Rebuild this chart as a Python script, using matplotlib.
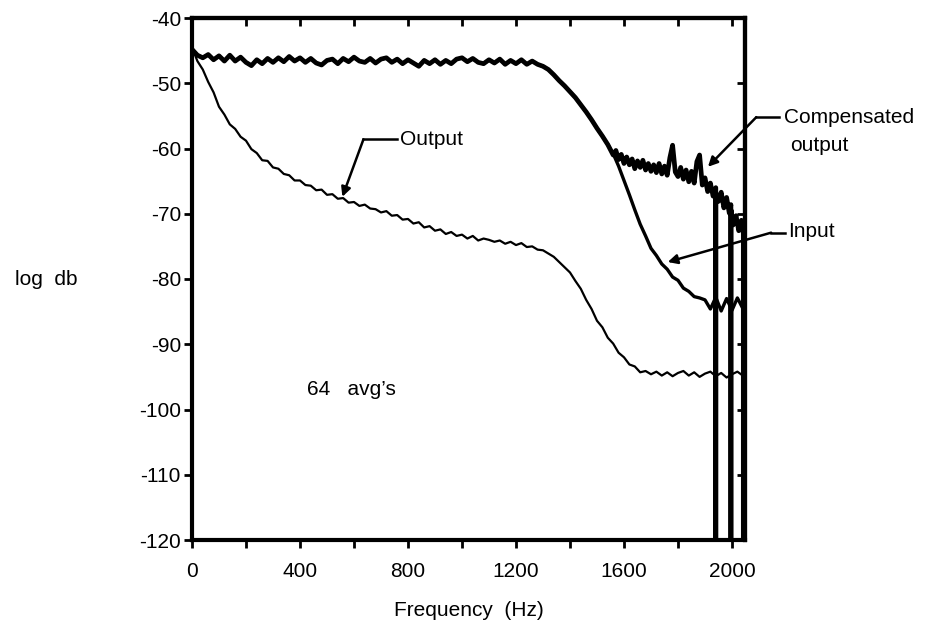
import matplotlib
matplotlib.use("Agg")
import matplotlib.pyplot as plt

plt.rcParams['font.family'] = ['Liberation Sans', 'DejaVu Sans']
plt.rcParams['axes.unicode_minus'] = False

# spectrum grid (Hz), 20 Hz bins
freq = list(range(0, 2041, 20))

# output spectrum (log db)
output_db = [
    -44.5, -46.6, -47.9, -49.8, -51.4, -53.6, -54.8, -56.3, -57.0, -58.2,
    -58.8, -60.1, -60.7, -61.8, -61.9, -62.9, -63.1, -63.9, -64.1, -64.9,
    -64.9, -65.6, -65.7, -66.4, -66.3, -67.1, -67.0, -67.7, -67.6, -68.3,
    -68.2, -68.8, -68.6, -69.2, -69.3, -69.8, -69.6, -70.3, -70.2, -70.9,
    -70.8, -71.5, -71.3, -72.1, -71.9, -72.6, -72.4, -73.1, -72.8, -73.4,
    -73.2, -73.8, -73.4, -74.1, -73.8, -74.0, -74.3, -74.1, -74.6, -74.3,
    -74.8, -74.5, -75.1, -75.0, -75.5, -75.6, -76.1, -76.6, -77.4, -78.2,
    -79.0, -80.3, -81.5, -83.2, -84.6, -86.4, -87.4, -89.0, -89.9, -91.3,
    -92.0, -93.1, -93.4, -94.3, -94.1, -94.6, -94.2, -94.8, -94.3, -94.9,
    -94.4, -94.1, -94.8, -94.3, -95.0, -94.5, -94.2, -94.9, -94.4, -95.1,
    -94.6, -94.2, -94.8,
]

# input spectrum (log db)
input_db = [
    -44.8, -45.7, -46.1, -45.6, -46.4, -45.8, -46.6, -45.7, -46.6, -46.0,
    -46.8, -47.3, -46.4, -47.0, -46.2, -46.8, -46.1, -46.7, -45.9, -46.6,
    -46.1, -46.8, -46.2, -46.9, -47.2, -46.5, -46.3, -47.0, -46.2, -46.7,
    -46.0, -46.6, -46.8, -46.2, -46.9, -46.3, -46.1, -46.8, -46.3, -47.0,
    -46.4, -46.9, -47.4, -46.5, -47.0, -46.4, -47.1, -46.5, -47.0, -46.3,
    -46.1, -46.7, -46.2, -46.8, -47.0, -46.4, -46.9, -46.3, -47.1, -46.5,
    -47.0, -46.4, -47.1, -46.6, -47.1, -47.4, -47.9, -48.7, -49.6, -50.4,
    -51.3, -52.2, -53.3, -54.4, -55.6, -56.9, -58.1, -59.4, -60.8, -62.7,
    -64.9, -67.1, -69.4, -71.6, -73.4, -75.3, -76.4, -77.7, -78.5, -79.7,
    -80.2, -81.4, -81.9, -82.7, -82.9, -83.2, -84.6, -82.8, -84.9, -83.0,
    -84.8, -82.9, -84.5,
]

# compensated output above 1540 Hz, where it leaves the input trace
comp_freq = [
    1540, 1550, 1560, 1570, 1580, 1590, 1600, 1610, 1620, 1630,
    1640, 1650, 1660, 1670, 1680, 1690, 1700, 1710, 1720, 1730,
    1740, 1750, 1760, 1770, 1780, 1790, 1800, 1810, 1820, 1830,
    1840, 1850, 1860, 1870, 1880, 1890, 1900, 1910, 1920, 1930,
    1940, 1940, 1940, 1950, 1960, 1970, 1980, 1990, 1996, 1996,
    1996, 2005, 2015, 2025, 2035, 2042, 2042,
]
comp_db = [
    -59.4, -60.2, -61.0, -60.3, -61.7, -60.9, -62.3, -61.3, -62.5, -61.6,
    -63.1, -61.9, -62.9, -61.8, -63.3, -62.3, -63.5, -62.5, -63.7, -62.3,
    -63.9, -62.7, -64.1, -61.4, -59.5, -63.6, -64.3, -62.9, -64.7, -63.3,
    -65.1, -63.5, -65.3, -62.0, -61.0, -65.6, -64.5, -66.6, -65.3, -67.3,
    -66.0, -120.0, -66.8, -68.1, -66.7, -69.1, -67.5, -69.9, -68.6, -120.0,
    -69.4, -71.7, -70.3, -72.6, -71.0, -73.0, -120.0,
]

x_ticks = list(range(0, 2001, 200))
x_labels = ['0', '', '400', '', '800', '', '1200', '', '1600', '', '2000']
y_ticks = list(range(-120, -39, 10))

FS = 15

fig = plt.figure(figsize=(9.32, 6.25), dpi=100)
ax = fig.add_axes([0.206, 0.136, 0.5933, 0.8352])

# compensated output shares the input trace below the split point
split = freq.index(1540)
comp_x = freq[:split] + comp_freq
comp_y = input_db[:split] + comp_db

ax.plot(freq, output_db, color='black', lw=1.6)
ax.plot(freq, input_db, color='black', lw=2.4)
ax.plot(comp_x, comp_y, color='black', lw=3.4)

ax.set_xlim(0, 2048)
ax.set_ylim(-120, -40)

ax.set_xticks(x_ticks)
ax.set_xticklabels(x_labels, fontsize=FS)
ax.set_yticks(y_ticks)
ax.set_yticklabels([str(v) for v in y_ticks], fontsize=FS)
ax.tick_params(axis='x', direction='out', length=6, width=2, pad=10)
ax.tick_params(axis='y', direction='out', length=6, width=2, pad=2)

for side in ax.spines.values():
    side.set_linewidth(3)
    side.set_capstyle('projecting')

# inward ticks on the top and right frame
top = ax.secondary_xaxis('top')
top.set_xticks(x_ticks)
top.tick_params(direction='in', length=6, width=2, labeltop=False)
top.spines['top'].set_linewidth(3)
right = ax.secondary_yaxis('right')
right.set_yticks(y_ticks)
right.tick_params(direction='in', length=6, width=2, labelright=False)
right.spines['right'].set_linewidth(3)

ax.set_xlabel('Frequency  (Hz)', fontsize=FS, labelpad=14)
fig.text(15 / 932, 1 - 280 / 625, 'log  db', fontsize=FS, ha='left', va='center')

ax.text(427, -97, "64   avg\u2019s", fontsize=FS, ha='left', va='center')

arrow = dict(arrowstyle='-|>', color='black', lw=1.8, mutation_scale=14,
             shrinkA=0, shrinkB=0)

# Output label
ax.plot([761, 635], [-58.6, -58.6], color='black', lw=1.8, clip_on=False)
ax.annotate('', xy=(557, -67.4), xytext=(635, -58.6), arrowprops=arrow,
            annotation_clip=False)
ax.text(772, -58.6, 'Output', fontsize=FS, ha='left', va='center')

# Compensated output label
ax.plot([2175, 2090], [-55.2, -55.2], color='black', lw=1.8, clip_on=False)
ax.annotate('', xy=(1911, -62.8), xytext=(2090, -55.2), arrowprops=arrow,
            annotation_clip=False)
ax.text(2193, -55.2, 'Compensated', fontsize=FS, ha='left', va='center')
ax.text(2215, -59.6, 'output', fontsize=FS, ha='left', va='center')

# Input label
ax.plot([2195, 2145], [-72.9, -72.9], color='black', lw=1.8, clip_on=False)
ax.annotate('', xy=(1762, -77.4), xytext=(2145, -72.9), arrowprops=arrow,
            annotation_clip=False)
ax.text(2208, -72.7, 'Input', fontsize=FS, ha='left', va='center')

fig.savefig('out.png', dpi=100)
